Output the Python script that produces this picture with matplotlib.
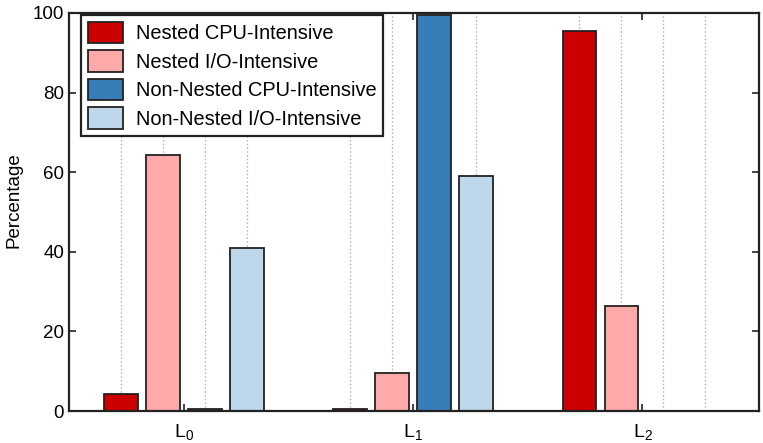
import numpy as np
import matplotlib
matplotlib.use("Agg")
import matplotlib.pyplot as plt

plt.rcParams['font.family'] = ['Liberation Sans', 'DejaVu Sans']
plt.rcParams['mathtext.fontset'] = 'custom'
plt.rcParams['mathtext.rm'] = 'Liberation Sans'
plt.rcParams['mathtext.default'] = 'rm'

# data
groups = [r'L$_0$', r'L$_1$', r'L$_2$']
series = ['Nested CPU-Intensive', 'Nested I/O-Intensive',
          'Non-Nested CPU-Intensive', 'Non-Nested I/O-Intensive']
nested_cpu = [4.2, 0.6, 95.5]
nested_io = [64.4, 9.5, 26.5]
nonnested_cpu = [0.6, 99.5, 0.0]
nonnested_io = [41.0, 59.0, 0.0]
colors = ['#cc0000', '#ffaaaa', '#377db8', '#bed7eb']

values = [nested_cpu, nested_io, nonnested_cpu, nonnested_io]

fig = plt.figure(figsize=(7.63, 4.43), dpi=100)
ax = fig.add_axes([0.0904, 0.0722, 0.9044, 0.8985])

x = np.arange(len(groups))
step = 0.1834
width = 0.148
offsets = (np.arange(len(series)) - 1.5) * step

# dotted grid at every bar slot
for g in x:
    for off in offsets:
        ax.axvline(g + off, color='#b0b0b0', linestyle=(0, (1.2, 1.8)),
                   linewidth=0.9, zorder=0)

for i, name in enumerate(series):
    ax.bar(x + offsets[i], values[i], width, color=colors[i],
           edgecolor='#222222', linewidth=1.3, label=name, zorder=2)

ax.set_xlim(-0.504, 2.509)
ax.set_ylim(0, 100)
ax.set_xticks(x)
ax.set_xticklabels(groups, fontsize=14)
ax.set_yticks(range(0, 101, 20))
ax.tick_params(axis='both', direction='in', top=True, right=True,
               labelsize=13.5, length=5, width=1.2, color='#222222')
ax.tick_params(axis='x', pad=8, labelsize=14)
for s in ax.spines.values():
    s.set_linewidth(1.6)
    s.set_color('#222222')

ax.set_ylabel('Percentage', fontsize=13.5)
ax.yaxis.set_label_coords(-0.068, 0.53)

leg = ax.legend(loc='upper left', bbox_to_anchor=(0.017, 0.995),
                borderaxespad=0, fontsize=14.4, fancybox=False, framealpha=1,
                edgecolor='#222222', handlelength=1.75, handleheight=1.25,
                labelspacing=0.36, handletextpad=0.65, borderpad=0.35)
leg.get_frame().set_linewidth(1.6)
leg.set_zorder(5)

fig.savefig('out.png', dpi=100)
